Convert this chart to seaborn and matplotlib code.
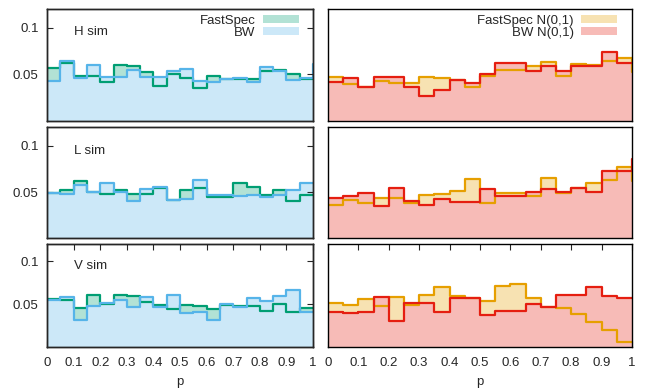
import numpy as np
import pandas as pd
import seaborn as sns
import matplotlib.pyplot as plt
from matplotlib.patches import Patch

# bin edges in p (20 bins of 0.05); the 21st value is the step drawn at p = 1
p = np.round(np.arange(21) * 0.05, 2)

# left column: FastSpec vs BW
h_fast = [0.0562, 0.0620, 0.0478, 0.0475, 0.0417, 0.0594, 0.0583, 0.0522, 0.0370, 0.0504,
          0.0460, 0.0351, 0.0482, 0.0449, 0.0449, 0.0449, 0.0529, 0.0540, 0.0496, 0.0446, 0.0446]
h_bw = [0.0428, 0.0645, 0.0453, 0.0594, 0.0464, 0.0464, 0.0540, 0.0464, 0.0467, 0.0533,
        0.0551, 0.0424, 0.0417, 0.0449, 0.0453, 0.0417, 0.0576, 0.0533, 0.0431, 0.0460, 0.0605]
l_fast = [0.0496, 0.0525, 0.0623, 0.0507, 0.0482, 0.0525, 0.0482, 0.0482, 0.0546, 0.0419,
          0.0525, 0.0549, 0.0447, 0.0447, 0.0595, 0.0553, 0.0472, 0.0525, 0.0401, 0.0468, 0.0468]
l_bw = [0.0489, 0.0482, 0.0581, 0.0507, 0.0595, 0.0500, 0.0408, 0.0535, 0.0560, 0.0415,
        0.0426, 0.0634, 0.0472, 0.0472, 0.0461, 0.0475, 0.0447, 0.0472, 0.0525, 0.0602, 0.0602]
v_fast = [0.0558, 0.0547, 0.0461, 0.0609, 0.0500, 0.0609, 0.0597, 0.0531, 0.0492, 0.0446,
          0.0492, 0.0481, 0.0446, 0.0492, 0.0484, 0.0481, 0.0422, 0.0500, 0.0415, 0.0461, 0.0461]
v_bw = [0.0547, 0.0581, 0.0318, 0.0481, 0.0519, 0.0550, 0.0469, 0.0581, 0.0473, 0.0609,
        0.0395, 0.0415, 0.0318, 0.0500, 0.0465, 0.0570, 0.0543, 0.0601, 0.0667, 0.0415, 0.0415]

# right column: N(0,1) versions
hn_fast = [0.0471, 0.0395, 0.0366, 0.0428, 0.0409, 0.0406, 0.0464, 0.0453, 0.0435, 0.0366,
           0.0482, 0.0547, 0.0547, 0.0583, 0.0627, 0.0475, 0.0612, 0.0601, 0.0638, 0.0670, 0.0520]
hn_bw = [0.0413, 0.0457, 0.0359, 0.0467, 0.0467, 0.0362, 0.0268, 0.0326, 0.0431, 0.0402,
         0.0496, 0.0616, 0.0616, 0.0533, 0.0583, 0.0529, 0.0587, 0.0587, 0.0736, 0.0620, 0.0620]
ln_fast = [0.0359, 0.0419, 0.0384, 0.0437, 0.0433, 0.0384, 0.0468, 0.0479, 0.0518, 0.0644,
           0.0387, 0.0493, 0.0493, 0.0461, 0.0658, 0.0489, 0.0542, 0.0599, 0.0627, 0.0775, 0.0623]
ln_bw = [0.0440, 0.0454, 0.0489, 0.0352, 0.0546, 0.0408, 0.0363, 0.0430, 0.0398, 0.0398,
         0.0535, 0.0461, 0.0461, 0.0507, 0.0535, 0.0507, 0.0546, 0.0500, 0.0725, 0.0725, 0.0859]
vn_fast = [0.0519, 0.0492, 0.0558, 0.0481, 0.0581, 0.0492, 0.0609, 0.0705, 0.0601, 0.0570,
           0.0543, 0.0713, 0.0736, 0.0570, 0.0473, 0.0461, 0.0384, 0.0291, 0.0202, 0.0066, 0.0066]
vn_bw = [0.0407, 0.0399, 0.0415, 0.0589, 0.0306, 0.0519, 0.0519, 0.0415, 0.0570, 0.0570,
         0.0376, 0.0426, 0.0422, 0.0504, 0.0473, 0.0609, 0.0609, 0.0698, 0.0597, 0.0578, 0.0578]

row_names = ['H sim', 'L sim', 'V sim']
left_labels = ['FastSpec', 'BW']
right_labels = ['FastSpec N(0,1)', 'BW N(0,1)']

green = ('#b2e2d5', '#009e73')
blue = ('#cce8f8', '#56b4e9')
orange = ('#f7e2b2', '#e69f00')
red = ('#f7bbb7', '#e51e10')

sns.set_style('ticks')
plt.rcParams['font.family'] = ['Liberation Sans', 'DejaVu Sans']
plt.rcParams['font.size'] = 9.5
plt.rcParams['axes.linewidth'] = 1.0

fig = plt.figure(figsize=(6.46, 3.9), dpi=100)

# panel boxes [left, bottom, width, height] in figure fraction
cols = [(0.0728, 0.4118), (0.5077, 0.4706)]
rows = [(0.691, 0.2859), (0.3885, 0.2846), (0.109, 0.2654)]

data = [[(h_fast, h_bw), (hn_fast, hn_bw)],
        [(l_fast, l_bw), (ln_fast, ln_bw)],
        [(v_fast, v_bw), (vn_fast, vn_bw)]]


def draw(ax, fast, bw, cf, cb):
    # filled steps, FastSpec first, BW drawn over it
    for vals, col in [(fast, cf), (bw, cb)]:
        df = pd.DataFrame({'p': p[:-1] + 0.025, 'w': vals[:-1]})
        sns.histplot(data=df, x='p', weights='w', binwidth=0.05, binrange=(0, 1),
                     element='step', fill=True, color=col[0], alpha=1, linewidth=0, ax=ax)
    # outlines
    sns.lineplot(x=p, y=fast, drawstyle='steps-post', color=cf[1], linewidth=1.6, ax=ax)
    sns.lineplot(x=p, y=bw, drawstyle='steps-post', color=cb[1], linewidth=1.6, ax=ax)


for r in range(3):
    for c in range(2):
        ax = fig.add_axes([cols[c][0], rows[r][0], cols[c][1], rows[r][1]])
        fast, bw = data[r][c]
        if c == 0:
            draw(ax, fast, bw, green, blue)
        else:
            draw(ax, fast, bw, orange, red)
        ax.set_xlim(0, 1)
        ax.set_ylim(0, 0.12)
        ax.set_xlabel('')
        ax.set_ylabel('')
        ax.set_axisbelow(True)
        for s in ax.spines.values():
            s.set_visible(True)
            s.set_color('black')
            s.set_zorder(5)

        if c == 0:
            ax.set_yticks([0.05, 0.1])
            ax.set_yticklabels(['0.05', '0.1'])
            ax.tick_params(axis='y', direction='in', length=4, pad=6, left=True, right=False)
            ax2 = ax.twinx()
            ax2.set_ylim(0, 0.12)
            ax2.set_yticks([0.05, 0.1])
            ax2.tick_params(axis='y', direction='in', length=4, labelright=False)
            ax2.tick_params(axis='x', bottom=False, top=False)
            ax2.set_ylabel('')
            ax.text(0.10, 0.79, row_names[r], transform=ax.transAxes, va='center', ha='left')
        else:
            ax.set_yticks([])

        if r == 2:
            ax.set_xticks(np.round(np.arange(11) * 0.1, 1))
            ax.set_xticklabels(['0', '0.1', '0.2', '0.3', '0.4', '0.5', '0.6', '0.7', '0.8', '0.9', '1'])
            ax.tick_params(axis='x', direction='in', length=4, pad=7, top=True, bottom=True)
            ax.set_xlabel('p', labelpad=5)
        else:
            ax.set_xticks([])

        if r == 0:
            labels = left_labels if c == 0 else right_labels
            fills = [green[0], blue[0]] if c == 0 else [orange[0], red[0]]
            handles = [Patch(facecolor=f, edgecolor='none') for f in fills]
            anchor = (0.947, 0.946) if c == 0 else (0.951, 0.946)
            ax.legend(handles, labels, loc='upper right', bbox_to_anchor=anchor,
                      frameon=False, markerfirst=False, borderpad=0, borderaxespad=0,
                      labelspacing=0.0, handlelength=2.7, handleheight=0.55,
                      handletextpad=0.6)

fig.savefig('out.png', dpi=100)
